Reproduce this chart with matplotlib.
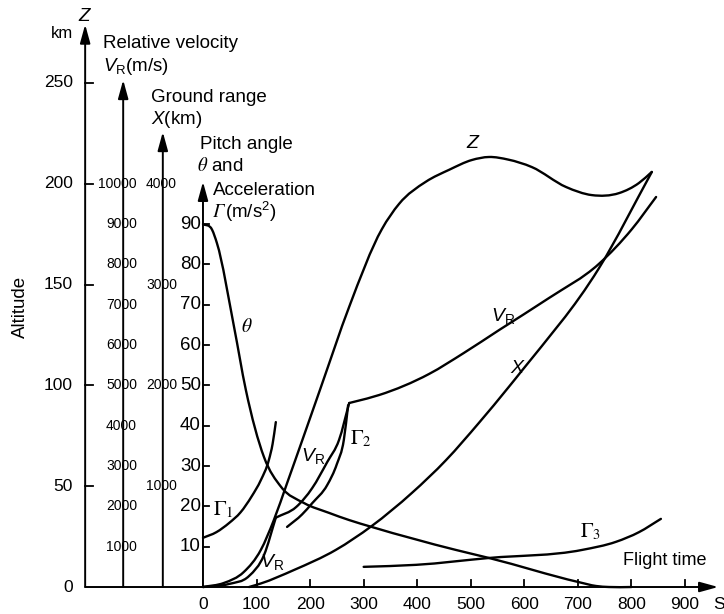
import matplotlib
matplotlib.use("Agg")
import numpy as np
import matplotlib.pyplot as plt
from matplotlib.path import Path
from matplotlib.patches import PathPatch

plt.rcParams['font.family'] = ['Liberation Sans', 'DejaVu Sans']
plt.rcParams['mathtext.fontset'] = 'custom'
plt.rcParams['mathtext.rm'] = 'Liberation Sans'
plt.rcParams['mathtext.it'] = 'Liberation Sans:italic'

# ---- data (time in s) ----
# altitude Z (km)
t_z = [0, 39, 76, 108, 132, 157, 185, 220, 273, 334, 366, 416, 460, 502, 534,
       570, 614, 678, 726, 777, 814, 838]
z_km = [0, 2, 7.4, 18.4, 33, 51.5, 72.5, 99, 139, 177.5, 190, 201, 207, 211.8,
        213.3, 212, 208.3, 198.4, 194.4, 195.4, 200.4, 205.9]

# relative velocity V_R (m/s), with kinks at staging (index 4 and 9)
t_v = [0, 48, 86, 114, 136, 174, 204, 232, 254, 273, 284, 329, 422, 487, 553,
       646, 739, 801, 846]
v_ms = [0, 74, 273, 794, 1720, 1984, 2455, 3100, 3646, 4563, 4600, 4762, 5283,
        5804, 6374, 7167, 8011, 8879, 9673]
v_breaks = [4, 9]

# ground range X (km)
t_x = [86, 108, 170, 248, 315, 390, 454, 515, 571, 596, 739, 838]
x_km = [0, 35, 169, 368, 605, 933, 1260, 1627, 1985, 2150, 3160, 4117]

# pitch angle theta (deg)
t_th = [0, 17, 26, 58, 80, 114, 146, 189, 235, 273, 315, 472, 534, 702,
        734, 758, 800]
theta = [90, 88.6, 85.3, 64.5, 48.9, 32.2, 24.8, 20.8, 18.4, 16.6, 14.9,
         9.2, 7.2, 1.2, 0.25, 0, 0]

# accelerations (m/s^2) for the three stages
t_g1 = [0, 25, 49, 70, 91, 108, 123, 130, 136]
g1 = [12.2, 13.6, 15.9, 18.5, 22.5, 26.5, 31.5, 35.5, 40.9]
t_g2 = [157, 185, 204, 232, 250, 263, 271]
g2 = [14.9, 18, 20.8, 25.3, 30.5, 36.5, 45.1]
t_g3 = [300, 398, 534, 708, 771, 814, 855]
g3 = [5.0, 5.5, 7.2, 9.2, 11.2, 13.6, 16.9]

# tick values of the stacked axes
z_ticks = [0, 50, 100, 150, 200, 250]
v_ticks = [1000, 2000, 3000, 4000, 5000, 6000, 7000, 8000, 9000, 10000]
x_ticks = [1000, 2000, 3000, 4000]
g_ticks = [10, 20, 30, 40, 50, 60, 70, 80, 90]
t_ticks = [100, 200, 300, 400, 500, 600, 700, 800, 900]
t_labels = [0, 100, 200, 300, 400, 500, 600, 700, 800, 900]

# scale factors of each quantity against the altitude axis
V_PER_KM = 50.0
X_PER_KM = 20.0
G_PER_KM = 0.5

XLIM = (-379, 972.8)
YLIM = (-13.39, 291.17)
AX_Z, AX_V, AX_X, AX_G = -220, -149, -75, 0
LW = 1.7


def smooth(a, xs, ys):
    # cubic Hermite curve through the read points, drawn as Bezier segments
    x = np.asarray(xs, float)
    y = np.asarray(ys, float)
    h = np.diff(x)
    s = np.diff(y) / h
    d = np.empty_like(y)
    d[0], d[-1] = s[0], s[-1]
    d[1:-1] = (h[:-1] * s[1:] + h[1:] * s[:-1]) / (h[:-1] + h[1:])
    verts = [(x[0], y[0])]
    codes = [Path.MOVETO]
    for i in range(len(x) - 1):
        verts += [(x[i] + h[i] / 3, y[i] + d[i] * h[i] / 3),
                  (x[i + 1] - h[i] / 3, y[i + 1] - d[i + 1] * h[i] / 3),
                  (x[i + 1], y[i + 1])]
        codes += [Path.CURVE4] * 3
    a.add_patch(PathPatch(Path(verts, codes), fill=False, lw=LW,
                          edgecolor='k', capstyle='round', joinstyle='round'))


fig = plt.figure(figsize=(7.24, 6.14), dpi=100)
ax = fig.add_axes([0, 0, 1, 1])
axv = fig.add_axes([0, 0, 1, 1])
axx = fig.add_axes([0, 0, 1, 1])
axg = fig.add_axes([0, 0, 1, 1])
for a, s in [(ax, 1.0), (axv, V_PER_KM), (axx, X_PER_KM), (axg, G_PER_KM)]:
    a.set_xlim(*XLIM)
    a.set_ylim(YLIM[0] * s, YLIM[1] * s)
    a.axis('off')
    a.patch.set_alpha(0)

smooth(ax, t_z, z_km)
cuts = [0] + v_breaks + [len(t_v) - 1]
for i0, i1 in zip(cuts[:-1], cuts[1:]):
    smooth(axv, t_v[i0:i1 + 1], v_ms[i0:i1 + 1])
smooth(axx, t_x, x_km)
smooth(axg, t_th, theta)
smooth(axg, t_g1, g1)
smooth(axg, t_g2, g2)
smooth(axg, t_g3, g3)


def arrow(a, x0, y0, x1, y1):
    a.annotate('', xy=(x1, y1), xytext=(x0, y0),
               arrowprops=dict(arrowstyle='-|>,head_length=0.8,head_width=0.22',
                               lw=1.4, color='k', mutation_scale=14,
                               shrinkA=0, shrinkB=0))


arrow(ax, AX_Z, 0, AX_Z, 279)
arrow(ax, AX_V, 0, AX_V, 251.5)
arrow(ax, AX_X, 0, AX_X, 225.7)
arrow(ax, AX_G, 0, AX_G, 201)
arrow(ax, AX_Z, 0, 962, 0)

fs_big = 13.5
# altitude ticks
for v in z_ticks:
    if v > 0:
        ax.plot([AX_Z, AX_Z + 14], [v, v], color='k', lw=1.3)
    ax.text(-242.7, v, str(v), ha='right', va='center', fontsize=12.5)
# velocity / range labels sitting on their axes
for v in v_ticks:
    axv.text(-123.2, v, str(v), ha='right', va='center', fontsize=10)
for v in x_ticks:
    axx.text(-48.5, v, str(v), ha='right', va='center', fontsize=10)
# pitch/acceleration ticks
for v in g_ticks:
    axg.plot([AX_G, AX_G + 11], [v, v], color='k', lw=1.3)
    axg.text(-4, v, str(v), ha='right', va='center', fontsize=13.5)
# time ticks
for v in t_ticks:
    ax.plot([v, v], [0, 3.5], color='k', lw=1.3)
for v in t_labels:
    ax.text(v, -8.9, str(v), ha='center', va='center', fontsize=12.5)
ax.text(952, -8.9, 'S', ha='left', va='center', fontsize=12.5)

# axis titles
ax.text(-220, 283.2, '$Z$', ha='center', va='center', fontsize=fs_big)
ax.text(-242.7, 274.8, 'km', ha='right', va='center', fontsize=12)
ax.text(-341.7, 138.9, 'Altitude', rotation=90, ha='center', va='center', fontsize=13.5)
ax.text(-186.7, 269.8, 'Relative velocity', ha='left', va='center', fontsize=fs_big)
ax.text(-186.7, 258, r'$V_\mathrm{R}$(m/s)', ha='left', va='center', fontsize=fs_big)
ax.text(-97, 243, 'Ground range', ha='left', va='center', fontsize=fs_big)
ax.text(-97, 232, '$X$(km)', ha='left', va='center', fontsize=fs_big)
ax.text(-5.6, 219.7, 'Pitch angle', ha='left', va='center', fontsize=fs_big)
ax.text(-11.2, 208.8, r'$\theta$ and', ha='left', va='center', fontsize=fs_big,
        math_fontfamily='stix')
ax.text(18.7, 196.9, 'Acceleration', ha='left', va='center', fontsize=fs_big)
gam = ax.text(18.7, 185.9, 'Γ', ha='left', va='center', fontsize=fs_big,
              family='STIXGeneral', style='italic')
ax.annotate('(m/s$^2$)', xy=(1.0, 0.5), xycoords=gam, ha='left', va='center',
            fontsize=fs_big)

# curve labels
ax.text(504, 220.2, '$Z$', ha='center', va='center', fontsize=14)
ax.text(560, 134.4, r'$V_\mathrm{R}$', ha='center', va='center', fontsize=14)
ax.text(588, 108.6, '$X$', ha='center', va='center', fontsize=14)
ax.text(82, 129, r'$\theta$', ha='center', va='center', fontsize=14,
        math_fontfamily='stix')
ax.text(205, 65, r'$V_\mathrm{R}$', ha='center', va='center', fontsize=14)
ax.text(295, 73.4, r'$\Gamma_2$', ha='center', va='center', fontsize=15,
        math_fontfamily='stix')
ax.text(18.7, 38.2, r'$\Gamma_1$', ha='left', va='center', fontsize=15,
        math_fontfamily='stix')
ax.text(129, 12.4, r'$V_\mathrm{R}$', ha='center', va='center', fontsize=14)
ax.text(723, 27.3, r'$\Gamma_3$', ha='center', va='center', fontsize=15,
        math_fontfamily='stix')
ax.text(862.6, 12.9, 'Flight time', ha='center', va='center', fontsize=13)

fig.savefig('out.png', dpi=100, facecolor='white')
